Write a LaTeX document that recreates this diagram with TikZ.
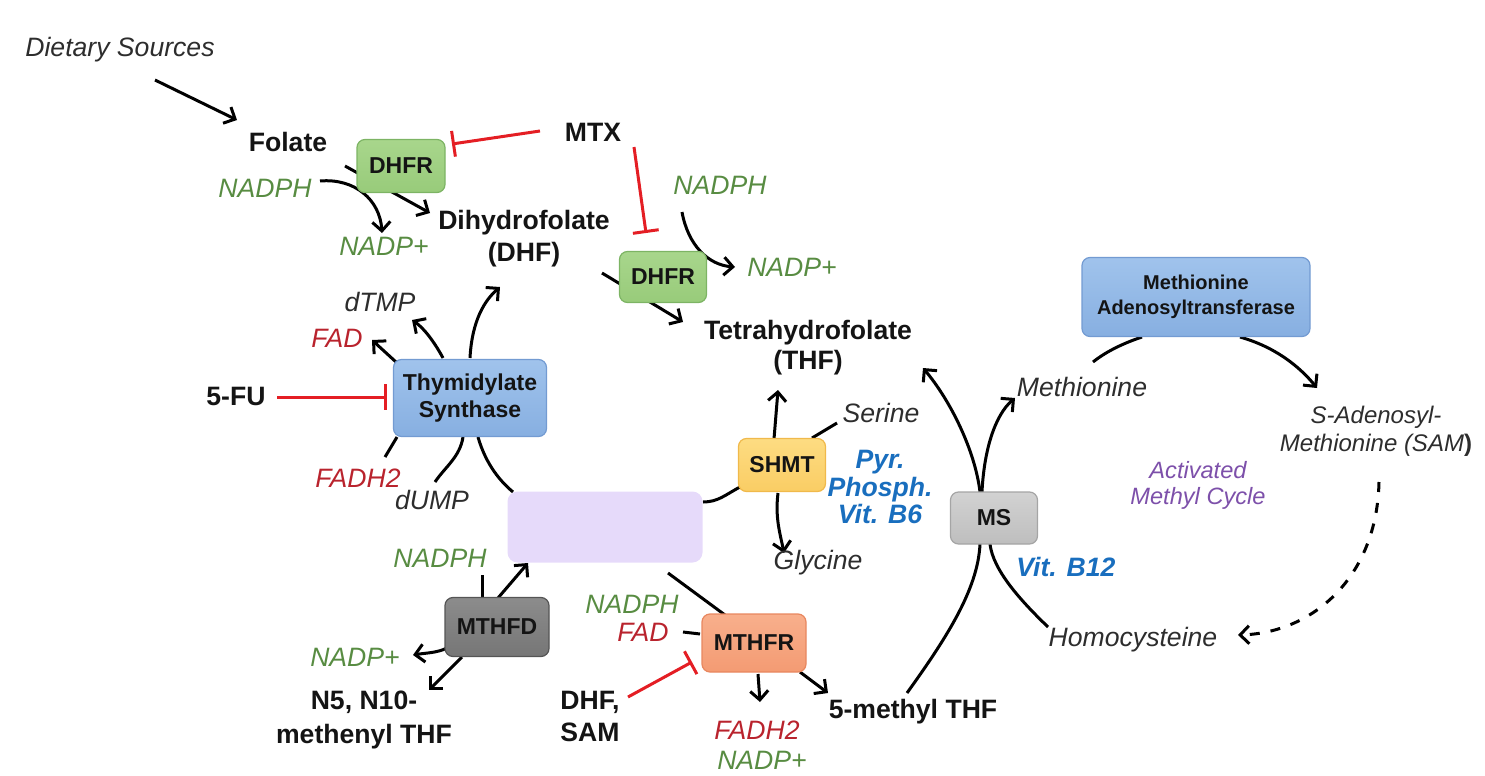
\documentclass[tikz,border=0pt]{standalone}
\usepackage{fontspec}
\setmainfont{Liberation Sans}
\usetikzlibrary{arrows.meta,calc}
\definecolor{tgray}{RGB}{45,45,45}
\definecolor{tblack}{RGB}{20,20,20}
\definecolor{tgreen}{RGB}{88,140,66}
\definecolor{tred}{RGB}{185,35,45}
\definecolor{tblue}{RGB}{25,110,190}
\definecolor{tpurple}{RGB}{125,80,170}
\definecolor{redline}{RGB}{228,30,36}
\definecolor{gfill}{RGB}{152,203,122}\definecolor{gtop}{RGB}{168,214,140}\definecolor{gdraw}{RGB}{125,180,100}
\definecolor{bfill}{RGB}{135,175,225}\definecolor{btop}{RGB}{160,195,236}\definecolor{bdraw}{RGB}{115,155,210}
\definecolor{pfill}{RGB}{230,218,250}
\definecolor{yfill}{RGB}{250,205,100}\definecolor{ytop}{RGB}{253,220,130}\definecolor{ydraw}{RGB}{240,185,75}
\definecolor{dfill}{RGB}{118,118,118}\definecolor{dtop}{RGB}{140,140,140}\definecolor{ddraw}{RGB}{85,85,85}
\definecolor{ofill}{RGB}{244,155,115}\definecolor{otop}{RGB}{248,175,140}\definecolor{odraw}{RGB}{232,135,95}
\definecolor{sfill}{RGB}{190,190,190}\definecolor{stop}{RGB}{210,210,210}\definecolor{sdraw}{RGB}{165,165,165}
\pgfdeclarelayer{background}
\pgfsetlayers{background,main}
\begin{document}
\begin{tikzpicture}[x=0.5pt,y=-0.5pt,
  lbl/.style={inner sep=0pt,align=center},
  it/.style={lbl,text=tgray,font=\fontsize{13.3}{16}\selectfont\itshape},
  itsm/.style={lbl,text=tgray,font=\fontsize{12}{14}\selectfont\itshape},
  bfl/.style={lbl,text=tblack,font=\fontsize{13.3}{16}\selectfont\bfseries},
  grn/.style={lbl,text=tgreen,font=\fontsize{13.3}{16}\selectfont\itshape},
  rd/.style={lbl,text=tred,font=\fontsize{13.3}{16}\selectfont\itshape},
  blu/.style={lbl,text=tblue,font=\fontsize{13.3}{13.8}\selectfont\bfseries\itshape},
  purp/.style={lbl,text=tpurple,font=\fontsize{11.8}{13}\selectfont\itshape},
  enz/.style={rounded corners=4pt,line width=0.6pt,inner sep=0pt,align=center,text=tblack,
    font=\fontsize{11.5}{13.5}\selectfont\bfseries},
  arr/.style={line width=1.5pt,-{Straight Barb[length=4.5pt,width=9pt]}},
  ln/.style={line width=1.5pt},
  inh/.style={line width=1.5pt,draw=redline,-{Bar[width=13pt]}}]
\useasboundingbox (0,0) rectangle (1485,776);

% text labels
\node[it] (diet) at (120,50) {Dietary Sources};
\node[bfl] (folate) at (288,142) {Folate};
\node[grn] (nadph1) at (265,188) {NADPH};
\node[grn] (nadpp1) at (384,246) {NADP+};
\node[bfl] (dhf) at (524,239) {Dihydrofolate\\(DHF)};
\node[bfl] (mtx) at (593,132) {MTX};
\node[grn] (nadph2) at (720,185) {NADPH};
\node[grn] (nadpp2) at (792,267) {NADP+};
\node[bfl,font=\fontsize{13.3}{15}\selectfont\bfseries] (thf) at (808,348) {Tetrahydrofolate\\(THF)};
\node[it] (dtmp) at (380,302) {dTMP};
\node[rd] (fad1) at (337,338) {FAD};
\node[bfl] (fu) at (236,396) {5-FU};
\node[rd] (fadh2) at (358,478) {FADH2};
\node[it] (dump) at (432,500) {dUMP};
\node[it] (serine) at (881,413) {Serine};
\node[blu] (pyr) at (880,487) {Pyr.\\Phosph.\\Vit. B6};
\node[it] (glycine) at (818,563) {Glycine};
\node[grn] (nadph3) at (440,558) {NADPH};
\node[grn] (nadpp3) at (355,657) {NADP+};
\node[bfl,font=\fontsize{13.3}{17}\selectfont\bfseries] (n5) at (364,720) {N5, N10-\\methenyl THF};
\node[grn] (nadph4) at (632,604) {NADPH};
\node[rd] (fad2) at (643,632) {FAD};
\node[bfl] (dhfsam) at (590,716) {DHF,\\SAM};
\node[rd] (fadh2b) at (757,730) {FADH2};
\node[grn] (nadpp4) at (762,760) {NADP+};
\node[bfl] (methyl5) at (913,712) {5-methyl THF};
\node[blu] (vitb12) at (1066,567) {Vit. B12};
\node[it] (methionine) at (1082,387) {Methionine};
\node[itsm] (sam) at (1376,431) {S-Adenosyl-\\Methionine (SAM\textbf{\upshape)}};
\node[purp] (amc) at (1198,485) {Activated\\Methyl Cycle};
\node[it] (hcy) at (1133,640) {Homocysteine};

% enzyme boxes
\node[enz,draw=gdraw,top color=gtop,bottom color=gfill,minimum width=44pt,minimum height=26.5pt] (dhfr1) at (401,166) {DHFR};
\node[enz,draw=gdraw,top color=gtop,bottom color=gfill,minimum width=43.5pt,minimum height=25.5pt] (dhfr2) at (663,277) {DHFR};
\node[enz,draw=bdraw,top color=btop,bottom color=bfill,minimum width=76.5pt,minimum height=38.5pt] (ts) at (470,398) {Thymidylate\\Synthase};
\node[rounded corners=5pt,fill=pfill,inner sep=0pt,minimum width=97.5pt,minimum height=35.5pt] (purple) at (605,527) {};
\node[enz,draw=ydraw,top color=ytop,bottom color=yfill,minimum width=43.5pt,minimum height=26.5pt] (shmt) at (782,465) {SHMT};
\node[enz,draw=ddraw,top color=dtop,bottom color=dfill,minimum width=52pt,minimum height=29.5pt] (mthfd) at (497,627) {MTHFD};
\node[enz,draw=odraw,top color=otop,bottom color=ofill,minimum width=52pt,minimum height=29pt] (mthfr) at (754,643) {MTHFR};
\node[enz,draw=sdraw,top color=stop,bottom color=sfill,minimum width=43.5pt,minimum height=26pt] (ms) at (994,518) {MS};
\node[enz,draw=bdraw,top color=btop,bottom color=bfill,minimum width=114pt,minimum height=39.5pt,
  font=\fontsize{10}{12.5}\selectfont\bfseries] (mat) at (1196,297) {Methionine\\Adenosyltransferase};

\begin{pgfonlayer}{background}
\draw[arr] ($(diet.center)+(35,30)$) -- ($(folate.center)+(-51,-22)$);
\draw[arr] ($(folate.center)+(57,24)$) -- ($(dhf.center)+(-94,-26)$);
\draw[arr] ($(nadph1.center)+(55,-7)$) .. controls +(35,-3) and +(-2,-33) .. ($(nadpp1.center)+(-2,-13)$);
\draw[inh] ($(mtx.center)+(-53,-1)$) -- ($(dhfr1.center)+(51,-22)$);
\draw[inh] ($(mtx.center)+(41,15)$) -- ($(dhfr2.center)+(-17,-44)$);
\draw[arr] ($(nadph2.center)+(-38,27)$) .. controls +(6,33) and +(-27,-2) .. ($(nadpp2.center)+(-57,0)$);
\draw[arr] ($(dhf.center)+(78,34)$) -- ($(thf.center)+(-125,-26)$);
% thymidylate synthase
\draw[arr] ($(ts.center)+(-74,-36)$) -- ($(fad1.center)+(35,2)$);
\draw[arr] ($(ts.center)+(-27,-40)$) .. controls +(-8,-15) and +(12,8) .. ($(dtmp.center)+(32,18)$);
\draw[arr] ($(ts.center)+(0,-40)$) .. controls +(2,-38) and +(-15,13) .. ($(dhf.center)+(-24,48)$);
\draw[ln] ($(ts.center)+(-73,39)$) -- ($(fadh2.center)+(27,-21)$);
\draw[ln] ($(ts.center)+(-7,39)$) .. controls +(-3,20) and +(10,-15) .. ($(dump.center)+(3,-18)$);
\draw[ln] ($(ts.center)+(8,39)$) .. controls +(8,28) and +(-12,-10) .. ($(purple.center)+(-92,-35)$);
\draw[inh] ($(fu.center)+(41,1)$) -- ($(ts.center)+(-83,-1)$);
% SHMT
\draw[ln] ($(purple.center)+(98,-25)$) .. controls +(15,0) and +(-15,8) .. ($(shmt.center)+(-42,22)$);
\draw[arr] ($(shmt.center)+(-8,-26)$) -- ($(thf.center)+(-30,42)$);
\draw[ln] ($(shmt.center)+(30,-27)$) -- ($(serine.center)+(-44,10)$);
\draw[arr] ($(shmt.center)+(-4,28)$) .. controls +(-3,25) and +(-4,-20) .. ($(glycine.center)+(-34,-10)$);
% MTHFD
\draw[ln] ($(nadph3.center)+(42,17)$) -- ($(mthfd.center)+(-15,-29)$);
\draw[arr] ($(mthfd.center)+(1,-29)$) -- ($(purple.center)+(-77,36)$);
\draw[arr] ($(mthfd.center)+(-50,21)$) .. controls +(-10,5) and +(12,-2) .. ($(nadpp3.center)+(58,-2)$);
\draw[arr] ($(mthfd.center)+(-35,30)$) -- ($(n5.center)+(65,-30)$);
% MTHFR
\draw[ln] ($(purple.center)+(63,46)$) -- ($(mthfr.center)+(-29,-28)$);
\draw[ln] ($(fad2.center)+(40,0)$) -- ($(mthfr.center)+(-54,-9)$);
\draw[inh] ($(dhfsam.center)+(38,-19)$) -- ($(mthfr.center)+(-62,19)$);
\draw[arr] ($(mthfr.center)+(4,31)$) -- ($(fadh2b.center)+(3,-28)$);
\draw[arr] ($(mthfr.center)+(46,29)$) -- ($(methyl5.center)+(-85,-19)$);
% MS
\draw[ln] ($(methyl5.center)+(-6,-19)$) .. controls +(38,-53) and +(-2,46) .. ($(ms.center)+(-14,26)$);
\draw[arr] ($(ms.center)+(-14,-26)$) .. controls +(-5,-42) and +(27,32) .. ($(thf.center)+(115,20)$);
\draw[arr] ($(ms.center)+(-12,-26)$) .. controls +(2,-42) and +(-20,17) .. ($(methionine.center)+(-67,11)$);
\draw[ln] ($(hcy.center)+(-85,-13)$) .. controls +(-28,-27) and +(3,26) .. ($(ms.center)+(-4,26)$);
% methyl cycle
\draw[ln] ($(methionine.center)+(11,-25)$) .. controls +(15,-12) and +(-15,5) .. ($(mat.center)+(-54,40)$);
\draw[arr] ($(mat.center)+(44,40)$) .. controls +(35,10) and +(-18,-22) .. ($(sam.center)+(-59,-43)$);
\draw[arr,dash pattern=on 5pt off 5.5pt] ($(sam.center)+(3,51)$) .. controls +(-2,95) and +(75,-2) .. ($(hcy.center)+(105,-5)$);
\end{pgfonlayer}
\end{tikzpicture}
\end{document}
